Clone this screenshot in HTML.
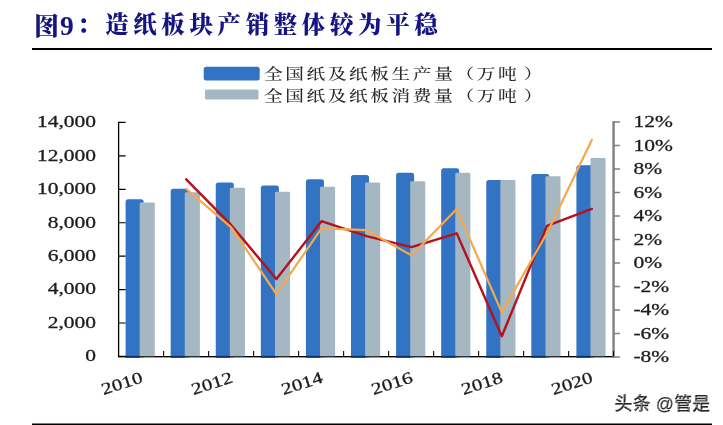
<!DOCTYPE html>
<html lang="zh"><head><meta charset="utf-8"><title>图9：造纸板块产销整体较为平稳</title>
<style>html,body{margin:0;padding:0;background:#fff}body{width:723px;height:425px;overflow:hidden}svg{display:block}.t{font-family:"Liberation Serif","Noto Serif CJK SC",serif}.s{font-family:"Liberation Sans","Noto Sans CJK SC",sans-serif}</style></head><body>
<svg width="723" height="425" viewBox="0 0 723 425">
<rect width="723" height="425" fill="#fff"/>
<text class="t" x="34" y="35.3" font-weight="900" fill="#141482"><tspan font-size="25" letter-spacing="3.1">图</tspan><tspan font-size="27.5" dx="-2.2">9</tspan><tspan font-size="23.5" letter-spacing="4.6" dy="-2.4" dx="3.4">：造纸板块产销整体较为平稳</tspan></text>
<rect x="32" y="48" width="680" height="2" fill="#000"/>
<rect x="32" y="423.5" width="680" height="1.5" fill="#000"/>
<rect x="203.7" y="66.7" width="56" height="13.7" rx="2.5" fill="#3373c4"/>
<rect x="205" y="89.4" width="53.5" height="10" rx="1.5" fill="#a4b7c3"/>
<text class="t" transform="translate(264.0,79.0) scale(1.29,1)" font-size="14.5" text-anchor="start" fill="#2b2b2b" letter-spacing="2.0" font-weight="500">全国纸及纸板生产量（万吨<tspan dx="3.6">）</tspan></text>
<text class="t" transform="translate(264.0,101.0) scale(1.29,1)" font-size="14.5" text-anchor="start" fill="#2b2b2b" letter-spacing="2.0" font-weight="500">全国纸及纸板消费量（万吨<tspan dx="3.6">）</tspan></text>
<path d="M118.0 356.55H613.5" stroke="#000" stroke-width="1.25" fill="none"/>
<path d="M125.60 357.4V201.9Q125.60 199.3 128.20 199.3H141.05Q143.65 199.3 143.65 201.9V357.4Z" fill="#3373c4"/>
<path d="M170.68 357.4V191.3Q170.68 188.7 173.28 188.7H186.13Q188.73 188.7 188.73 191.3V357.4Z" fill="#3373c4"/>
<path d="M215.76 357.4V185.0Q215.76 182.4 218.36 182.4H231.21Q233.81 182.4 233.81 185.0V357.4Z" fill="#3373c4"/>
<path d="M260.84 357.4V188.1Q260.84 185.5 263.44 185.5H276.29Q278.89 185.5 278.89 188.1V357.4Z" fill="#3373c4"/>
<path d="M305.92 357.4V181.9Q305.92 179.3 308.52 179.3H321.37Q323.97 179.3 323.97 181.9V357.4Z" fill="#3373c4"/>
<path d="M351.00 357.4V177.5Q351.00 174.9 353.60 174.9H366.45Q369.05 174.9 369.05 177.5V357.4Z" fill="#3373c4"/>
<path d="M396.08 357.4V175.4Q396.08 172.8 398.68 172.8H411.53Q414.13 172.8 414.13 175.4V357.4Z" fill="#3373c4"/>
<path d="M441.16 357.4V170.9Q441.16 168.3 443.76 168.3H456.61Q459.21 168.3 459.21 170.9V357.4Z" fill="#3373c4"/>
<path d="M486.24 357.4V182.5Q486.24 179.9 488.84 179.9H501.69Q504.29 179.9 504.29 182.5V357.4Z" fill="#3373c4"/>
<path d="M531.32 357.4V176.5Q531.32 173.9 533.92 173.9H546.77Q549.37 173.9 549.37 176.5V357.4Z" fill="#3373c4"/>
<path d="M576.40 357.4V167.8Q576.40 165.2 579.00 165.2H591.85Q594.45 165.2 594.45 167.8V357.4Z" fill="#3373c4"/>
<path d="M139.70 356.9V203.7Q139.70 202.5 140.90 202.5H153.60Q154.80 202.5 154.80 203.7V356.9Z" fill="#a4b7c3"/>
<path d="M184.78 356.9V193.4Q184.78 192.2 185.98 192.2H198.68Q199.88 192.2 199.88 193.4V356.9Z" fill="#a4b7c3"/>
<path d="M229.86 356.9V189.0Q229.86 187.8 231.06 187.8H243.76Q244.96 187.8 244.96 189.0V356.9Z" fill="#a4b7c3"/>
<path d="M274.94 356.9V193.0Q274.94 191.8 276.14 191.8H288.84Q290.04 191.8 290.04 193.0V356.9Z" fill="#a4b7c3"/>
<path d="M320.02 356.9V188.0Q320.02 186.8 321.22 186.8H333.92Q335.12 186.8 335.12 188.0V356.9Z" fill="#a4b7c3"/>
<path d="M365.10 356.9V183.6Q365.10 182.4 366.30 182.4H379.00Q380.20 182.4 380.20 183.6V356.9Z" fill="#a4b7c3"/>
<path d="M410.18 356.9V182.4Q410.18 181.2 411.38 181.2H424.08Q425.28 181.2 425.28 182.4V356.9Z" fill="#a4b7c3"/>
<path d="M455.26 356.9V174.0Q455.26 172.8 456.46 172.8H469.16Q470.36 172.8 470.36 174.0V356.9Z" fill="#a4b7c3"/>
<path d="M500.34 356.9V181.1Q500.34 179.9 501.54 179.9H514.24Q515.44 179.9 515.44 181.1V356.9Z" fill="#a4b7c3"/>
<path d="M545.42 356.9V177.4Q545.42 176.2 546.62 176.2H559.32Q560.52 176.2 560.52 177.4V356.9Z" fill="#a4b7c3"/>
<path d="M590.50 356.9V159.3Q590.50 158.1 591.70 158.1H604.40Q605.60 158.1 605.60 159.3V356.9Z" fill="#a4b7c3"/>
<path d="M118.6 121.8V357.1" stroke="#000" stroke-width="1.3" fill="none"/>
<path d="M118.0 356.55H613.5" stroke="#000" stroke-opacity="0.72" stroke-width="1.25" fill="none"/>
<path d="M118.6 122.45h7M118.6 155.88h7M118.6 189.31h7M118.6 222.74h7M118.6 256.16h7M118.6 289.59h7M118.6 323.02h7M118.6 356.45h7" stroke="#000" stroke-width="1.2" fill="none"/>
<rect x="125.60" y="355.85" width="14.1" height="1.8" fill="#0b2f68"/>
<rect x="170.68" y="355.85" width="14.1" height="1.8" fill="#0b2f68"/>
<rect x="215.76" y="355.85" width="14.1" height="1.8" fill="#0b2f68"/>
<rect x="260.84" y="355.85" width="14.1" height="1.8" fill="#0b2f68"/>
<rect x="305.92" y="355.85" width="14.1" height="1.8" fill="#0b2f68"/>
<rect x="351.00" y="355.85" width="14.1" height="1.8" fill="#0b2f68"/>
<rect x="396.08" y="355.85" width="14.1" height="1.8" fill="#0b2f68"/>
<rect x="441.16" y="355.85" width="14.1" height="1.8" fill="#0b2f68"/>
<rect x="486.24" y="355.85" width="14.1" height="1.8" fill="#0b2f68"/>
<rect x="531.32" y="355.85" width="14.1" height="1.8" fill="#0b2f68"/>
<rect x="576.40" y="355.85" width="14.1" height="1.8" fill="#0b2f68"/>
<path d="M613.55 121.2V357.8" stroke="#7f7f7f" stroke-width="2.4" fill="none"/>
<path d="M613.5 122.00h6.4M613.5 145.50h6.4M613.5 169.00h6.4M613.5 192.50h6.4M613.5 216.00h6.4M613.5 239.50h6.4M613.5 263.00h6.4M613.5 286.50h6.4M613.5 310.00h6.4M613.5 333.50h6.4M613.5 357.00h6.4" stroke="#7f7f7f" stroke-width="1.6" fill="none"/>
<path d="M163.6 356.4v-5.4M208.6 356.4v-5.4M253.6 356.4v-5.4M298.6 356.4v-5.4M343.6 356.4v-5.4M388.6 356.4v-5.4M433.6 356.4v-5.4M478.6 356.4v-5.4M523.6 356.4v-5.4M568.6 356.4v-5.4M613.5 356.4v-5.4" stroke="#111" stroke-width="1.15" fill="none"/>
<polyline points="186.2,179.3 231.3,225.2 276.4,279.1 321.5,221.2 366.5,236.1 411.6,247.1 456.7,233.3 501.8,336.3 546.9,225.9 591.9,208.9" fill="none" stroke="#b5121b" stroke-width="2.4" stroke-linejoin="round" stroke-linecap="round"/>
<polyline points="186.2,188.9 231.3,227.3 276.4,294.1 321.5,228.3 366.5,230.2 411.6,255.4 456.7,209.1 501.8,312.4 546.9,233.2 591.9,139.7" fill="none" stroke="#f5a94d" stroke-width="2.2" stroke-linejoin="round" stroke-linecap="round"/>
<text class="t" transform="translate(96.0,127.2) scale(1.295,1)" font-size="16.6" text-anchor="end" fill="#1c1c1c" stroke="#1c1c1c" stroke-width="0.3">14,000</text>
<text class="t" transform="translate(96.0,160.7) scale(1.295,1)" font-size="16.6" text-anchor="end" fill="#1c1c1c" stroke="#1c1c1c" stroke-width="0.3">12,000</text>
<text class="t" transform="translate(96.0,194.1) scale(1.295,1)" font-size="16.6" text-anchor="end" fill="#1c1c1c" stroke="#1c1c1c" stroke-width="0.3">10,000</text>
<text class="t" transform="translate(96.0,227.5) scale(1.295,1)" font-size="16.6" text-anchor="end" fill="#1c1c1c" stroke="#1c1c1c" stroke-width="0.3">8,000</text>
<text class="t" transform="translate(96.0,261.0) scale(1.295,1)" font-size="16.6" text-anchor="end" fill="#1c1c1c" stroke="#1c1c1c" stroke-width="0.3">6,000</text>
<text class="t" transform="translate(96.0,294.4) scale(1.295,1)" font-size="16.6" text-anchor="end" fill="#1c1c1c" stroke="#1c1c1c" stroke-width="0.3">4,000</text>
<text class="t" transform="translate(96.0,327.8) scale(1.295,1)" font-size="16.6" text-anchor="end" fill="#1c1c1c" stroke="#1c1c1c" stroke-width="0.3">2,000</text>
<text class="t" transform="translate(96.0,361.2) scale(1.295,1)" font-size="16.6" text-anchor="end" fill="#1c1c1c" stroke="#1c1c1c" stroke-width="0.3">0</text>
<text class="t" transform="translate(633.4,127.1) scale(1.295,1)" font-size="16.6" text-anchor="start" fill="#1c1c1c" stroke="#1c1c1c" stroke-width="0.3">12%</text>
<text class="t" transform="translate(633.4,150.6) scale(1.295,1)" font-size="16.6" text-anchor="start" fill="#1c1c1c" stroke="#1c1c1c" stroke-width="0.3">10%</text>
<text class="t" transform="translate(633.4,174.1) scale(1.295,1)" font-size="16.6" text-anchor="start" fill="#1c1c1c" stroke="#1c1c1c" stroke-width="0.3">8%</text>
<text class="t" transform="translate(633.4,197.6) scale(1.295,1)" font-size="16.6" text-anchor="start" fill="#1c1c1c" stroke="#1c1c1c" stroke-width="0.3">6%</text>
<text class="t" transform="translate(633.4,221.1) scale(1.295,1)" font-size="16.6" text-anchor="start" fill="#1c1c1c" stroke="#1c1c1c" stroke-width="0.3">4%</text>
<text class="t" transform="translate(633.4,244.6) scale(1.295,1)" font-size="16.6" text-anchor="start" fill="#1c1c1c" stroke="#1c1c1c" stroke-width="0.3">2%</text>
<text class="t" transform="translate(633.4,268.1) scale(1.295,1)" font-size="16.6" text-anchor="start" fill="#1c1c1c" stroke="#1c1c1c" stroke-width="0.3">0%</text>
<text class="t" transform="translate(633.4,291.6) scale(1.295,1)" font-size="16.6" text-anchor="start" fill="#1c1c1c" stroke="#1c1c1c" stroke-width="0.3">-2%</text>
<text class="t" transform="translate(633.4,315.1) scale(1.295,1)" font-size="16.6" text-anchor="start" fill="#1c1c1c" stroke="#1c1c1c" stroke-width="0.3">-4%</text>
<text class="t" transform="translate(633.4,338.6) scale(1.295,1)" font-size="16.6" text-anchor="start" fill="#1c1c1c" stroke="#1c1c1c" stroke-width="0.3">-6%</text>
<text class="t" transform="translate(633.4,362.1) scale(1.295,1)" font-size="16.6" text-anchor="start" fill="#1c1c1c" stroke="#1c1c1c" stroke-width="0.3">-8%</text>
<text class="t" transform="translate(143.7,382.0) rotate(-18) scale(1.27,1)" font-size="16.6" text-anchor="end" fill="#1c1c1c" stroke="#1c1c1c" stroke-width="0.3">2010</text>
<text class="t" transform="translate(233.7,382.0) rotate(-18) scale(1.27,1)" font-size="16.6" text-anchor="end" fill="#1c1c1c" stroke="#1c1c1c" stroke-width="0.3">2012</text>
<text class="t" transform="translate(323.7,382.0) rotate(-18) scale(1.27,1)" font-size="16.6" text-anchor="end" fill="#1c1c1c" stroke="#1c1c1c" stroke-width="0.3">2014</text>
<text class="t" transform="translate(413.7,382.0) rotate(-18) scale(1.27,1)" font-size="16.6" text-anchor="end" fill="#1c1c1c" stroke="#1c1c1c" stroke-width="0.3">2016</text>
<text class="t" transform="translate(503.7,382.0) rotate(-18) scale(1.27,1)" font-size="16.6" text-anchor="end" fill="#1c1c1c" stroke="#1c1c1c" stroke-width="0.3">2018</text>
<text class="t" transform="translate(593.7,382.0) rotate(-18) scale(1.27,1)" font-size="16.6" text-anchor="end" fill="#1c1c1c" stroke="#1c1c1c" stroke-width="0.3">2020</text>
<g class="s" font-size="17.8" letter-spacing="0.25"><text x="614.6" y="409.6" font-weight="500" fill="#242424" stroke="#242424" stroke-width="0.25">头条 @管是</text><text x="614.1" y="409.1" font-weight="100" fill="#fff" fill-opacity="0.7">头条 <tspan fill-opacity="0.25">@</tspan>管是</text></g>
</svg></body></html>
